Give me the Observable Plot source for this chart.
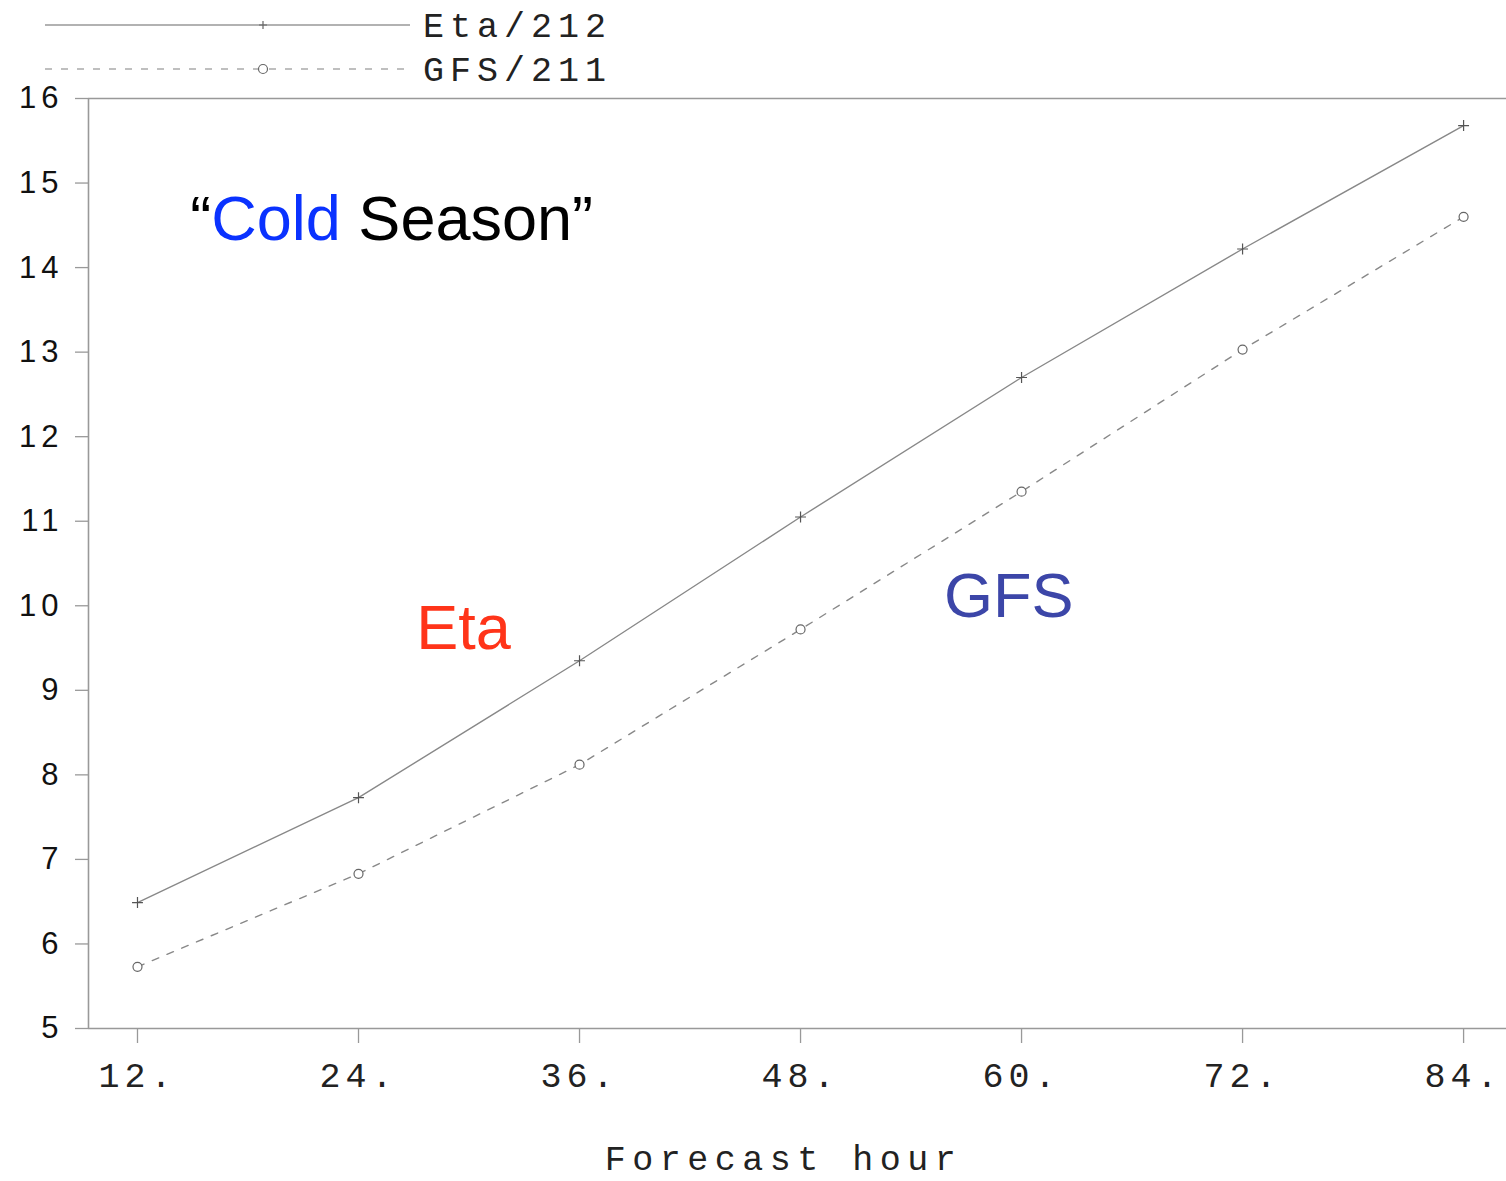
<!DOCTYPE html>
<html>
<head>
<meta charset="utf-8">
<script src="https://cdn.jsdelivr.net/npm/d3@7"></script>
<script src="https://cdn.jsdelivr.net/npm/@observablehq/plot@0.6"></script>
<style>
  body { margin: 0; background: #fff; }
  #wrap { position: relative; width: 1506px; height: 1181px; background: #fff; }
  #legend { position: absolute; left: 0; top: 0; }
  #wrap svg [aria-label="x-axis tick label"] text { letter-spacing: 5px; }
  #wrap svg [aria-label="y-axis tick label"] text { letter-spacing: 5px; }
  #wrap svg .xtitle text { letter-spacing: 6.5px; }
</style>
</head>
<body>
<div id="wrap"></div>
<script>
// ---- data ----
const hours = [12, 24, 36, 48, 60, 72, 84];
const etaValues = [6.49, 7.73, 9.35, 11.05, 12.70, 14.22, 15.68];
const gfsValues = [5.73, 6.83, 8.12, 9.72, 11.35, 13.03, 14.60];
const seriesNames = ["Eta/212", "GFS/211"];
const yTicks = [5, 6, 7, 8, 9, 10, 11, 12, 13, 14, 15, 16];
const xTitle = "Forecast hour";
const annotations = [
  {text: "\u201CCold Season\u201D", x: 25.8, y: 14.56, color: "#000000"},
  {text: "Eta", x: 29.7, y: 9.73, color: "#ff3419"},
  {text: "GFS", x: 59.3, y: 10.11, color: "#3c46a8"}
];
const xDomain = [9.34, 86.33];
const yDomain = [5, 16];

const eta = hours.map((h, i) => ({h, v: etaValues[i]}));
const gfs = hours.map((h, i) => ({h, v: gfsValues[i]}));

const lineColor = "#888";
const axisColor = "#999";
const mono = "'Liberation Mono', 'DejaVu Sans Mono', monospace";
const sans = "'Liberation Sans', Arial, sans-serif";

const chart = Plot.plot({
  width: 1506,
  height: 1181,
  marginTop: 98,
  marginBottom: 153,
  marginLeft: 88,
  marginRight: 0,
  style: {background: "#fff", fontFamily: sans, color: "#111"},
  x: {domain: xDomain},
  y: {domain: yDomain},
  marks: [
    Plot.ruleY([yDomain[0], yDomain[1]], {stroke: axisColor, strokeWidth: 1.6}),
    Plot.ruleX([xDomain[0]], {stroke: axisColor, strokeWidth: 1.6}),
    Plot.axisY({ticks: yTicks, tickSize: 13, tickPadding: 12, label: null, fontSize: 31,
      fontFamily: sans, stroke: axisColor, strokeWidth: 1.3}),
    Plot.axisX({ticks: hours, tickSize: 15, tickPadding: 19, label: null, fontSize: 35,
      fontFamily: mono, stroke: axisColor, strokeWidth: 1.3, fill: "#222", tickFormat: d => d + "."}),
    Plot.line(eta, {x: "h", y: "v", stroke: lineColor, strokeWidth: 1.4}),
    Plot.line(gfs, {x: "h", y: "v", stroke: lineColor, strokeWidth: 1.4, strokeDasharray: "7,9"}),
    Plot.dot(eta, {x: "h", y: "v", symbol: "plus", r: 3.6, stroke: "#555", strokeWidth: 1.2}),
    Plot.dot(gfs, {x: "h", y: "v", symbol: "circle", r: 4.5, stroke: "#666", strokeWidth: 1.2, fill: "#fff"}),
    Plot.text(annotations, {x: "x", y: "y", text: "text", fill: "color", textAnchor: "middle",
      fontSize: 63, fontFamily: sans, className: "annot"}),
    Plot.text([xTitle], {frameAnchor: "bottom", dy: 141, dx: -14, fontSize: 35, fontFamily: mono,
      fill: "#222", className: "xtitle"})
  ]
});

// two-colour "Cold Season"
d3.select(chart).selectAll(".annot text").each(function() {
  const t = d3.select(this);
  if (t.text() === annotations[0].text) {
    t.text("");
    t.append("tspan").attr("fill", "#000").text("\u201C");
    t.append("tspan").attr("fill", "#0a32ff").text("Cold");
    t.append("tspan").attr("fill", "#000").text(" Season\u201D");
  }
});

const wrap = document.getElementById("wrap");
wrap.appendChild(chart);

// legend (above the plot area)
const leg = d3.select(wrap).append("svg").attr("id", "legend")
  .attr("width", 640).attr("height", 92);
const legRows = seriesNames.map((name, i) => ({name, y: 25 + i * 44, dashed: i === 1}));
legRows.forEach(r => {
  leg.append("line").attr("x1", 45).attr("x2", 410).attr("y1", r.y).attr("y2", r.y)
    .attr("stroke", r.dashed ? "#aaa" : "#999").attr("stroke-width", 1.3)
    .attr("stroke-dasharray", r.dashed ? "7,9" : null);
  if (r.dashed) {
    leg.append("circle").attr("cx", 263).attr("cy", r.y).attr("r", 4.5)
      .attr("fill", "#fff").attr("stroke", "#666").attr("stroke-width", 1.2);
  } else {
    leg.append("path").attr("d", `M${259},${r.y}h8M${263},${r.y - 4}v8`)
      .attr("stroke", "#666").attr("stroke-width", 1.2);
  }
  leg.append("text").attr("x", 423).attr("y", r.y).attr("dy", "0.35em")
    .attr("font-family", mono).attr("font-size", 35).attr("letter-spacing", "6px")
    .attr("fill", "#222").text(r.name);
});
</script>
</body>
</html>
